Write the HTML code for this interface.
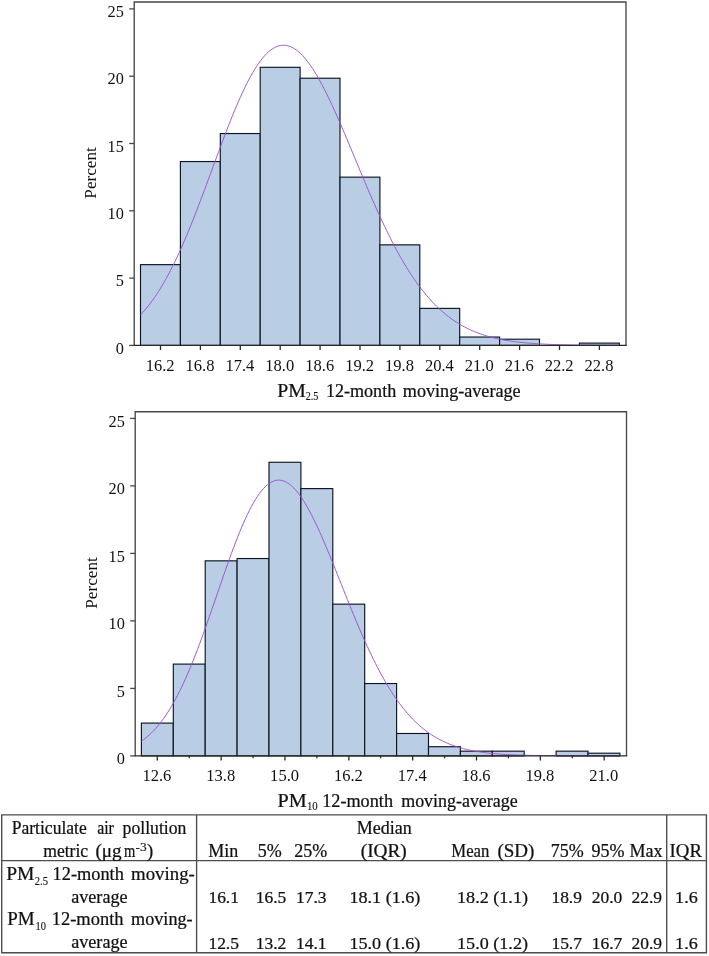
<!DOCTYPE html>
<html><head><meta charset="utf-8"><title>Figure</title>
<style>
html,body{margin:0;padding:0;background:#fff;}
svg{display:block;font-family:"Liberation Serif",serif;fill:#111;}
.b text, text.b{stroke:#111;stroke-width:0.24px;} text.s{stroke-width:0.14px;}
</style></head><body>
<svg width="709" height="956" viewBox="0 0 709 956">
<rect width="709" height="956" fill="#fff"/>
<rect x="140.50" y="264.64" width="39.90" height="80.76" fill="#b9cde5" stroke="#0c1620" stroke-width="1.15"/>
<rect x="180.40" y="161.54" width="39.90" height="183.86" fill="#b9cde5" stroke="#0c1620" stroke-width="1.15"/>
<rect x="220.30" y="133.54" width="39.90" height="211.86" fill="#b9cde5" stroke="#0c1620" stroke-width="1.15"/>
<rect x="260.20" y="67.32" width="39.90" height="278.08" fill="#b9cde5" stroke="#0c1620" stroke-width="1.15"/>
<rect x="300.10" y="78.22" width="39.90" height="267.18" fill="#b9cde5" stroke="#0c1620" stroke-width="1.15"/>
<rect x="340.00" y="177.15" width="39.90" height="168.25" fill="#b9cde5" stroke="#0c1620" stroke-width="1.15"/>
<rect x="379.90" y="244.85" width="39.90" height="100.55" fill="#b9cde5" stroke="#0c1620" stroke-width="1.15"/>
<rect x="419.80" y="308.38" width="39.90" height="37.01" fill="#b9cde5" stroke="#0c1620" stroke-width="1.15"/>
<rect x="459.70" y="337.05" width="39.90" height="8.35" fill="#b9cde5" stroke="#0c1620" stroke-width="1.15"/>
<rect x="499.60" y="339.21" width="39.90" height="6.19" fill="#b9cde5" stroke="#0c1620" stroke-width="1.15"/>
<rect x="579.40" y="343.11" width="39.90" height="2.29" fill="#b9cde5" stroke="#0c1620" stroke-width="1.15"/>
<path d="M140.6,314.76 L142.6,312.62 L144.6,310.36 L146.6,308.00 L148.6,305.52 L150.6,302.92 L152.6,300.20 L154.6,297.37 L156.6,294.41 L158.6,291.33 L160.6,288.13 L162.6,284.80 L164.6,281.35 L166.6,277.78 L168.6,274.08 L170.6,270.27 L172.6,266.33 L174.6,262.27 L176.6,258.09 L178.6,253.80 L180.6,249.40 L182.6,244.89 L184.6,240.28 L186.6,235.57 L188.6,230.76 L190.6,225.87 L192.6,220.89 L194.6,215.83 L196.6,210.70 L198.6,205.50 L200.6,200.25 L202.6,194.95 L204.6,189.60 L206.6,184.22 L208.6,178.82 L210.6,173.39 L212.6,167.96 L214.6,162.54 L216.6,157.12 L218.6,151.72 L220.6,146.36 L222.6,141.03 L224.6,135.76 L226.6,130.54 L228.6,125.40 L230.6,120.34 L232.6,115.37 L234.6,110.50 L236.6,105.75 L238.6,101.11 L240.6,96.60 L242.6,92.23 L244.6,88.02 L246.6,83.95 L248.6,80.06 L250.6,76.33 L252.6,72.79 L254.6,69.44 L256.6,66.28 L258.6,63.33 L260.6,60.58 L262.6,58.04 L264.6,55.73 L266.6,53.63 L268.6,51.76 L270.6,50.12 L272.6,48.72 L274.6,47.54 L276.6,46.61 L278.6,45.91 L280.6,45.44 L282.6,45.22 L284.6,45.23 L286.6,45.48 L288.6,45.96 L290.6,46.67 L292.6,47.61 L294.6,48.78 L296.6,50.16 L298.6,51.77 L300.6,53.58 L302.6,55.61 L304.6,57.83 L306.6,60.25 L308.6,62.86 L310.6,65.66 L312.6,68.63 L314.6,71.76 L316.6,75.06 L318.6,78.51 L320.6,82.11 L322.6,85.85 L324.6,89.71 L326.6,93.70 L328.6,97.79 L330.6,102.00 L332.6,106.30 L334.6,110.68 L336.6,115.15 L338.6,119.68 L340.6,124.28 L342.6,128.93 L344.6,133.63 L346.6,138.36 L348.6,143.13 L350.6,147.92 L352.6,152.72 L354.6,157.53 L356.6,162.34 L358.6,167.15 L360.6,171.94 L362.6,176.71 L364.6,181.46 L366.6,186.17 L368.6,190.85 L370.6,195.49 L372.6,200.08 L374.6,204.62 L376.6,209.10 L378.6,213.52 L380.6,217.88 L382.6,222.17 L384.6,226.39 L386.6,230.53 L388.6,234.60 L390.6,238.59 L392.6,242.50 L394.6,246.32 L396.6,250.06 L398.6,253.71 L400.6,257.28 L402.6,260.75 L404.6,264.14 L406.6,267.44 L408.6,270.64 L410.6,273.76 L412.6,276.78 L414.6,279.72 L416.6,282.56 L418.6,285.32 L420.6,287.99 L422.6,290.57 L424.6,293.06 L426.6,295.47 L428.6,297.79 L430.6,300.03 L432.6,302.19 L434.6,304.27 L436.6,306.27 L438.6,308.19 L440.6,310.04 L442.6,311.81 L444.6,313.52 L446.6,315.15 L448.6,316.71 L450.6,318.21 L452.6,319.64 L454.6,321.01 L456.6,322.32 L458.6,323.57 L460.6,324.76 L462.6,325.90 L464.6,326.98 L466.6,328.01 L468.6,329.00 L470.6,329.93 L472.6,330.82 L474.6,331.67 L476.6,332.47 L478.6,333.23 L480.6,333.95 L482.6,334.64 L484.6,335.29 L486.6,335.90 L488.6,336.48 L490.6,337.03 L492.6,337.55 L494.6,338.04 L496.6,338.50 L498.6,338.94 L500.6,339.35 L502.6,339.74 L504.6,340.11 L506.6,340.45 L508.6,340.78 L510.6,341.08 L512.6,341.37 L514.6,341.64 L516.6,341.89 L518.6,342.13 L520.6,342.35 L522.6,342.56 L524.6,342.76 L526.6,342.94 L528.6,343.11 L530.6,343.27 L532.6,343.42 L534.6,343.56 L536.6,343.69 L538.6,343.82 L540.6,343.93 L542.6,344.04 L544.6,344.14 L546.6,344.23 L548.6,344.32 L550.6,344.40 L552.6,344.47 L554.6,344.54 L556.6,344.60 L558.6,344.66 L560.6,344.72 L562.6,344.77 L564.6,344.82 L566.6,344.87 L568.6,344.91 L570.6,344.95 L572.6,344.98 L574.6,345.01 L576.6,345.04 L578.6,345.07 L580.6,345.10 L582.6,345.12 L584.6,345.15 L586.6,345.17 L588.6,345.18 L590.6,345.20 L592.6,345.22 L594.6,345.23 L596.6,345.25 L598.6,345.26 L600.6,345.27 L602.6,345.28 L604.6,345.29 L606.6,345.30 L608.6,345.31 L610.6,345.32 L612.6,345.32 L614.6,345.33 L616.6,345.34 L618.6,345.34" fill="none" stroke="#9a52d2" stroke-width="0.95" stroke-linejoin="round"/>
<path d="M134.2,345.4 V2.0 H626.0 V345.4" fill="none" stroke="#474747" stroke-width="1.35"/>
<path d="M133.45,345.4 H626.75" fill="none" stroke="#2a2a2a" stroke-width="1.4"/>
<path d="M129.2,345.40 H134.2" stroke="#474747" stroke-width="1.3"/>
<text x="123.8" y="353.60" text-anchor="end" font-size="16.3">0</text>
<path d="M129.2,278.10 H134.2" stroke="#474747" stroke-width="1.3"/>
<text x="123.8" y="286.30" text-anchor="end" font-size="16.3">5</text>
<path d="M129.2,210.80 H134.2" stroke="#474747" stroke-width="1.3"/>
<text x="123.8" y="219.00" text-anchor="end" font-size="16.3">10</text>
<path d="M129.2,143.50 H134.2" stroke="#474747" stroke-width="1.3"/>
<text x="123.8" y="151.70" text-anchor="end" font-size="16.3">15</text>
<path d="M129.2,76.20 H134.2" stroke="#474747" stroke-width="1.3"/>
<text x="123.8" y="84.40" text-anchor="end" font-size="16.3">20</text>
<path d="M129.2,8.90 H134.2" stroke="#474747" stroke-width="1.3"/>
<text x="123.8" y="17.10" text-anchor="end" font-size="16.3">25</text>
<path d="M160.50,345.4 v4.6" stroke="#2a2a2a" stroke-width="1.3"/>
<path d="M200.40,345.4 v4.6" stroke="#2a2a2a" stroke-width="1.3"/>
<path d="M240.30,345.4 v4.6" stroke="#2a2a2a" stroke-width="1.3"/>
<path d="M280.20,345.4 v4.6" stroke="#2a2a2a" stroke-width="1.3"/>
<path d="M320.10,345.4 v4.6" stroke="#2a2a2a" stroke-width="1.3"/>
<path d="M360.00,345.4 v4.6" stroke="#2a2a2a" stroke-width="1.3"/>
<path d="M399.90,345.4 v4.6" stroke="#2a2a2a" stroke-width="1.3"/>
<path d="M439.80,345.4 v4.6" stroke="#2a2a2a" stroke-width="1.3"/>
<path d="M479.70,345.4 v4.6" stroke="#2a2a2a" stroke-width="1.3"/>
<path d="M519.60,345.4 v4.6" stroke="#2a2a2a" stroke-width="1.3"/>
<path d="M559.50,345.4 v4.6" stroke="#2a2a2a" stroke-width="1.3"/>
<path d="M599.40,345.4 v4.6" stroke="#2a2a2a" stroke-width="1.3"/>
<text x="145.65" y="370.80" font-size="16.4" textLength="28.9" lengthAdjust="spacingAndGlyphs">16.2</text>
<text x="185.55" y="370.80" font-size="16.4" textLength="28.9" lengthAdjust="spacingAndGlyphs">16.8</text>
<text x="225.45" y="370.80" font-size="16.4" textLength="28.9" lengthAdjust="spacingAndGlyphs">17.4</text>
<text x="265.35" y="370.80" font-size="16.4" textLength="28.9" lengthAdjust="spacingAndGlyphs">18.0</text>
<text x="305.25" y="370.80" font-size="16.4" textLength="28.9" lengthAdjust="spacingAndGlyphs">18.6</text>
<text x="345.15" y="370.80" font-size="16.4" textLength="28.9" lengthAdjust="spacingAndGlyphs">19.2</text>
<text x="385.05" y="370.80" font-size="16.4" textLength="28.9" lengthAdjust="spacingAndGlyphs">19.8</text>
<text x="424.95" y="370.80" font-size="16.4" textLength="28.9" lengthAdjust="spacingAndGlyphs">20.4</text>
<text x="464.85" y="370.80" font-size="16.4" textLength="28.9" lengthAdjust="spacingAndGlyphs">21.0</text>
<text x="504.75" y="370.80" font-size="16.4" textLength="28.9" lengthAdjust="spacingAndGlyphs">21.6</text>
<text x="544.65" y="370.80" font-size="16.4" textLength="28.9" lengthAdjust="spacingAndGlyphs">22.2</text>
<text x="584.55" y="370.80" font-size="16.4" textLength="28.9" lengthAdjust="spacingAndGlyphs">22.8</text>
<text transform="translate(96.3,172.9) rotate(-90)" text-anchor="middle" font-size="17.2">Percent</text>
<g class="b">
<text x="277.3" y="396.6" font-size="18" textLength="28.5" lengthAdjust="spacingAndGlyphs">PM</text>
<text x="305.8" y="400.4" font-size="12.8" textLength="12.6" lengthAdjust="spacingAndGlyphs" class="s">2.5</text>
<text x="325.9" y="396.6" font-size="18" textLength="70.3" lengthAdjust="spacingAndGlyphs">12-month</text>
<text x="402.8" y="396.6" font-size="18" textLength="117.8" lengthAdjust="spacingAndGlyphs">moving-average</text>
</g>
<rect x="141.40" y="723.10" width="31.90" height="32.80" fill="#b9cde5" stroke="#0c1620" stroke-width="1.15"/>
<rect x="173.30" y="664.10" width="31.90" height="91.80" fill="#b9cde5" stroke="#0c1620" stroke-width="1.15"/>
<rect x="205.20" y="560.83" width="31.90" height="195.07" fill="#b9cde5" stroke="#0c1620" stroke-width="1.15"/>
<rect x="237.10" y="558.53" width="31.90" height="197.37" fill="#b9cde5" stroke="#0c1620" stroke-width="1.15"/>
<rect x="269.00" y="462.27" width="31.90" height="293.62" fill="#b9cde5" stroke="#0c1620" stroke-width="1.15"/>
<rect x="300.90" y="488.60" width="31.90" height="267.30" fill="#b9cde5" stroke="#0c1620" stroke-width="1.15"/>
<rect x="332.80" y="604.16" width="31.90" height="151.74" fill="#b9cde5" stroke="#0c1620" stroke-width="1.15"/>
<rect x="364.70" y="683.54" width="31.90" height="72.36" fill="#b9cde5" stroke="#0c1620" stroke-width="1.15"/>
<rect x="396.60" y="733.49" width="31.90" height="22.41" fill="#b9cde5" stroke="#0c1620" stroke-width="1.15"/>
<rect x="428.50" y="746.72" width="31.90" height="9.18" fill="#b9cde5" stroke="#0c1620" stroke-width="1.15"/>
<rect x="460.40" y="751.17" width="31.90" height="4.73" fill="#b9cde5" stroke="#0c1620" stroke-width="1.15"/>
<rect x="492.30" y="751.17" width="31.90" height="4.73" fill="#b9cde5" stroke="#0c1620" stroke-width="1.15"/>
<rect x="556.10" y="751.17" width="31.90" height="4.73" fill="#b9cde5" stroke="#0c1620" stroke-width="1.15"/>
<rect x="588.00" y="753.20" width="31.90" height="2.70" fill="#b9cde5" stroke="#0c1620" stroke-width="1.15"/>
<path d="M141.4,741.17 L143.4,739.75 L145.4,738.21 L147.4,736.56 L149.4,734.80 L151.4,732.91 L153.4,730.90 L155.4,728.75 L157.4,726.48 L159.4,724.06 L161.4,721.50 L163.4,718.79 L165.4,715.93 L167.4,712.93 L169.4,709.77 L171.4,706.45 L173.4,702.98 L175.4,699.35 L177.4,695.57 L179.4,691.63 L181.4,687.54 L183.4,683.30 L185.4,678.91 L187.4,674.37 L189.4,669.69 L191.4,664.87 L193.4,659.92 L195.4,654.85 L197.4,649.66 L199.4,644.36 L201.4,638.97 L203.4,633.48 L205.4,627.90 L207.4,622.26 L209.4,616.56 L211.4,610.80 L213.4,605.02 L215.4,599.21 L217.4,593.39 L219.4,587.57 L221.4,581.77 L223.4,576.00 L225.4,570.28 L227.4,564.62 L229.4,559.03 L231.4,553.53 L233.4,548.14 L235.4,542.86 L237.4,537.72 L239.4,532.72 L241.4,527.89 L243.4,523.22 L245.4,518.74 L247.4,514.46 L249.4,510.39 L251.4,506.54 L253.4,502.92 L255.4,499.54 L257.4,496.41 L259.4,493.54 L261.4,490.93 L263.4,488.60 L265.4,486.54 L267.4,484.76 L269.4,483.26 L271.4,482.05 L273.4,481.13 L275.4,480.50 L277.4,480.16 L279.4,480.11 L281.4,480.35 L283.4,480.87 L285.4,481.67 L287.4,482.75 L289.4,484.09 L291.4,485.70 L293.4,487.57 L295.4,489.70 L297.4,492.06 L299.4,494.66 L301.4,497.48 L303.4,500.52 L305.4,503.76 L307.4,507.20 L309.4,510.82 L311.4,514.62 L313.4,518.58 L315.4,522.69 L317.4,526.93 L319.4,531.31 L321.4,535.80 L323.4,540.39 L325.4,545.08 L327.4,549.85 L329.4,554.68 L331.4,559.58 L333.4,564.52 L335.4,569.50 L337.4,574.50 L339.4,579.52 L341.4,584.55 L343.4,589.57 L345.4,594.58 L347.4,599.56 L349.4,604.52 L351.4,609.44 L353.4,614.32 L355.4,619.14 L357.4,623.90 L359.4,628.60 L361.4,633.23 L363.4,637.79 L365.4,642.26 L367.4,646.65 L369.4,650.95 L371.4,655.15 L373.4,659.27 L375.4,663.28 L377.4,667.19 L379.4,671.00 L381.4,674.71 L383.4,678.31 L385.4,681.81 L387.4,685.20 L389.4,688.48 L391.4,691.66 L393.4,694.73 L395.4,697.70 L397.4,700.56 L399.4,703.31 L401.4,705.97 L403.4,708.52 L405.4,710.97 L407.4,713.32 L409.4,715.58 L411.4,717.75 L413.4,719.82 L415.4,721.80 L417.4,723.69 L419.4,725.50 L421.4,727.23 L423.4,728.87 L425.4,730.44 L427.4,731.93 L429.4,733.35 L431.4,734.70 L433.4,735.98 L435.4,737.19 L437.4,738.34 L439.4,739.43 L441.4,740.46 L443.4,741.44 L445.4,742.36 L447.4,743.23 L449.4,744.05 L451.4,744.83 L453.4,745.56 L455.4,746.25 L457.4,746.89 L459.4,747.50 L461.4,748.08 L463.4,748.61 L465.4,749.12 L467.4,749.59 L469.4,750.03 L471.4,750.45 L473.4,750.84 L475.4,751.20 L477.4,751.54 L479.4,751.86 L481.4,752.15 L483.4,752.43 L485.4,752.69 L487.4,752.93 L489.4,753.15 L491.4,753.36 L493.4,753.55 L495.4,753.73 L497.4,753.90 L499.4,754.05 L501.4,754.20 L503.4,754.33 L505.4,754.46 L507.4,754.57 L509.4,754.68 L511.4,754.77 L513.4,754.87 L515.4,754.95 L517.4,755.03 L519.4,755.10 L521.4,755.16 L523.4,755.23 L525.4,755.28 L527.4,755.33 L529.4,755.38 L531.4,755.43 L533.4,755.47 L535.4,755.50 L537.4,755.54 L539.4,755.57 L541.4,755.60 L543.4,755.62 L545.4,755.65 L547.4,755.67 L549.4,755.69 L551.4,755.71 L553.4,755.73 L555.4,755.74 L557.4,755.76 L559.4,755.77 L561.4,755.78 L563.4,755.79 L565.4,755.80 L567.4,755.81 L569.4,755.82 L571.4,755.83 L573.4,755.83 L575.4,755.84 L577.4,755.84 L579.4,755.85 L581.4,755.85 L583.4,755.86 L585.4,755.86 L587.4,755.87 L589.4,755.87 L591.4,755.87 L593.4,755.88 L595.4,755.88 L597.4,755.88 L599.4,755.88 L601.4,755.88 L603.4,755.89 L605.4,755.89 L607.4,755.89 L609.4,755.89 L611.4,755.89 L613.4,755.89 L615.4,755.89 L617.4,755.89 L619.4,755.89" fill="none" stroke="#9a52d2" stroke-width="0.95" stroke-linejoin="round"/>
<path d="M135.2,755.9 V411.7 H626.5 V755.9" fill="none" stroke="#474747" stroke-width="1.35"/>
<path d="M134.45,755.9 H627.25" fill="none" stroke="#2a2a2a" stroke-width="1.4"/>
<path d="M130.2,755.90 H135.2" stroke="#474747" stroke-width="1.3"/>
<text x="124.8" y="764.10" text-anchor="end" font-size="16.3">0</text>
<path d="M130.2,688.40 H135.2" stroke="#474747" stroke-width="1.3"/>
<text x="124.8" y="696.60" text-anchor="end" font-size="16.3">5</text>
<path d="M130.2,620.90 H135.2" stroke="#474747" stroke-width="1.3"/>
<text x="124.8" y="629.10" text-anchor="end" font-size="16.3">10</text>
<path d="M130.2,553.40 H135.2" stroke="#474747" stroke-width="1.3"/>
<text x="124.8" y="561.60" text-anchor="end" font-size="16.3">15</text>
<path d="M130.2,485.90 H135.2" stroke="#474747" stroke-width="1.3"/>
<text x="124.8" y="494.10" text-anchor="end" font-size="16.3">20</text>
<path d="M130.2,418.40 H135.2" stroke="#474747" stroke-width="1.3"/>
<text x="124.8" y="426.60" text-anchor="end" font-size="16.3">25</text>
<path d="M157.30,755.9 v4.6" stroke="#2a2a2a" stroke-width="1.3"/>
<path d="M189.22,755.9 v2.4" stroke="#2a2a2a" stroke-width="1.3"/>
<path d="M221.14,755.9 v4.6" stroke="#2a2a2a" stroke-width="1.3"/>
<path d="M253.06,755.9 v2.4" stroke="#2a2a2a" stroke-width="1.3"/>
<path d="M284.98,755.9 v4.6" stroke="#2a2a2a" stroke-width="1.3"/>
<path d="M316.90,755.9 v2.4" stroke="#2a2a2a" stroke-width="1.3"/>
<path d="M348.82,755.9 v4.6" stroke="#2a2a2a" stroke-width="1.3"/>
<path d="M380.74,755.9 v2.4" stroke="#2a2a2a" stroke-width="1.3"/>
<path d="M412.66,755.9 v4.6" stroke="#2a2a2a" stroke-width="1.3"/>
<path d="M444.58,755.9 v2.4" stroke="#2a2a2a" stroke-width="1.3"/>
<path d="M476.50,755.9 v4.6" stroke="#2a2a2a" stroke-width="1.3"/>
<path d="M508.42,755.9 v2.4" stroke="#2a2a2a" stroke-width="1.3"/>
<path d="M540.34,755.9 v4.6" stroke="#2a2a2a" stroke-width="1.3"/>
<path d="M572.26,755.9 v2.4" stroke="#2a2a2a" stroke-width="1.3"/>
<path d="M604.18,755.9 v4.6" stroke="#2a2a2a" stroke-width="1.3"/>
<text x="142.45" y="781.30" font-size="16.4" textLength="28.9" lengthAdjust="spacingAndGlyphs">12.6</text>
<text x="206.29" y="781.30" font-size="16.4" textLength="28.9" lengthAdjust="spacingAndGlyphs">13.8</text>
<text x="270.13" y="781.30" font-size="16.4" textLength="28.9" lengthAdjust="spacingAndGlyphs">15.0</text>
<text x="333.97" y="781.30" font-size="16.4" textLength="28.9" lengthAdjust="spacingAndGlyphs">16.2</text>
<text x="397.81" y="781.30" font-size="16.4" textLength="28.9" lengthAdjust="spacingAndGlyphs">17.4</text>
<text x="461.65" y="781.30" font-size="16.4" textLength="28.9" lengthAdjust="spacingAndGlyphs">18.6</text>
<text x="525.49" y="781.30" font-size="16.4" textLength="28.9" lengthAdjust="spacingAndGlyphs">19.8</text>
<text x="589.33" y="781.30" font-size="16.4" textLength="28.9" lengthAdjust="spacingAndGlyphs">21.0</text>
<text transform="translate(97.3,583.0) rotate(-90)" text-anchor="middle" font-size="17.2">Percent</text>
<g class="b">
<text x="277.5" y="806.5" font-size="18" textLength="29.2" lengthAdjust="spacingAndGlyphs">PM</text>
<text x="306.9" y="810.3" font-size="12.8" textLength="10.8" lengthAdjust="spacingAndGlyphs" class="s">10</text>
<text x="322.2" y="806.5" font-size="18" textLength="70.8" lengthAdjust="spacingAndGlyphs">12-month</text>
<text x="401.2" y="806.5" font-size="18" textLength="116.5" lengthAdjust="spacingAndGlyphs">moving-average</text>
</g>
<g class="b">
<path d="M1.7,814.9 H706.4 V952.8 H1.7 Z M1.7,860.6 H706.4 M196.6,814.9 V952.8 M666.7,814.9 V952.8" fill="none" stroke="#4e4e4e" stroke-width="1.4"/>
<text x="11.7" y="834.3" font-size="18" textLength="75.1" lengthAdjust="spacingAndGlyphs">Particulate</text>
<text x="97.2" y="834.3" font-size="18" textLength="16.7" lengthAdjust="spacingAndGlyphs">air</text>
<text x="122.6" y="834.3" font-size="18" textLength="63.8" lengthAdjust="spacingAndGlyphs">pollution</text>
<text x="43.2" y="857.2" font-size="18" textLength="45.0" lengthAdjust="spacingAndGlyphs">metric</text>
<text x="95.5" y="857.2" font-size="18" textLength="26.2" lengthAdjust="spacingAndGlyphs">(μg</text>
<text x="124.0" y="857.2" font-size="18" textLength="11.3" lengthAdjust="spacingAndGlyphs">m</text>
<text x="135.5" y="851.0" font-size="11.6" textLength="11.2" lengthAdjust="spacingAndGlyphs" class="s">-3</text>
<text x="147.1" y="857.2" font-size="18" textLength="6.2" lengthAdjust="spacingAndGlyphs">)</text>
<text x="6.2" y="880.0" font-size="18" textLength="28.2" lengthAdjust="spacingAndGlyphs">PM</text>
<text x="34.8" y="884.8" font-size="13" textLength="13.2" lengthAdjust="spacingAndGlyphs" class="s">2.5</text>
<text x="52.6" y="880.0" font-size="18" textLength="71.2" lengthAdjust="spacingAndGlyphs">12-month</text>
<text x="131.1" y="880.0" font-size="18" textLength="63.7" lengthAdjust="spacingAndGlyphs">moving-</text>
<text x="71.2" y="902.9" font-size="18" textLength="56.4" lengthAdjust="spacingAndGlyphs">average</text>
<text x="7.2" y="925.2" font-size="18" textLength="27.4" lengthAdjust="spacingAndGlyphs">PM</text>
<text x="35.5" y="930.0" font-size="13" textLength="10.4" lengthAdjust="spacingAndGlyphs" class="s">10</text>
<text x="51.8" y="925.2" font-size="18" textLength="71.7" lengthAdjust="spacingAndGlyphs">12-month</text>
<text x="131.1" y="925.2" font-size="18" textLength="61.5" lengthAdjust="spacingAndGlyphs">moving-</text>
<text x="71.2" y="948.2" font-size="18" textLength="56.4" lengthAdjust="spacingAndGlyphs">average</text>
<text x="223.2" y="856.9" text-anchor="middle" font-size="18" >Min</text>
<text x="269.8" y="856.9" text-anchor="middle" font-size="18" >5%</text>
<text x="310.8" y="856.9" text-anchor="middle" font-size="18" >25%</text>
<text x="384.2" y="834.4" text-anchor="middle" font-size="18" >Median</text>
<text x="360.8" y="856.9" font-size="18" textLength="46.0" lengthAdjust="spacingAndGlyphs">(IQR)</text>
<text x="451.3" y="856.9" font-size="18" textLength="38.0" lengthAdjust="spacingAndGlyphs">Mean</text>
<text x="497.5" y="856.9" font-size="18" textLength="36.9" lengthAdjust="spacingAndGlyphs">(SD)</text>
<text x="567.3" y="856.9" text-anchor="middle" font-size="18" >75%</text>
<text x="607.9" y="856.9" text-anchor="middle" font-size="18" >95%</text>
<text x="646.0" y="856.9" text-anchor="middle" font-size="18" >Max</text>
<text x="669.6" y="856.9" font-size="18" textLength="32.3" lengthAdjust="spacingAndGlyphs">IQR</text>
<text x="208.4" y="902.5" font-size="16.9" textLength="30.6" lengthAdjust="spacingAndGlyphs">16.1</text>
<text x="255.7" y="902.5" font-size="16.9" textLength="30.6" lengthAdjust="spacingAndGlyphs">16.5</text>
<text x="296.0" y="902.5" font-size="16.9" textLength="30.6" lengthAdjust="spacingAndGlyphs">17.3</text>
<text x="349.4" y="902.5" font-size="16.9" textLength="71.0" lengthAdjust="spacingAndGlyphs">18.1 (1.6)</text>
<text x="457.0" y="902.5" font-size="16.9" textLength="71.0" lengthAdjust="spacingAndGlyphs">18.2 (1.1)</text>
<text x="551.4" y="902.5" font-size="16.9" textLength="30.6" lengthAdjust="spacingAndGlyphs">18.9</text>
<text x="591.7" y="902.5" font-size="16.9" textLength="30.6" lengthAdjust="spacingAndGlyphs">20.0</text>
<text x="631.5" y="902.5" font-size="16.9" textLength="30.6" lengthAdjust="spacingAndGlyphs">22.9</text>
<text x="675.1" y="902.5" font-size="16.9" textLength="22.6" lengthAdjust="spacingAndGlyphs">1.6</text>
<text x="208.4" y="948.9" font-size="16.9" textLength="30.6" lengthAdjust="spacingAndGlyphs">12.5</text>
<text x="255.7" y="948.9" font-size="16.9" textLength="30.6" lengthAdjust="spacingAndGlyphs">13.2</text>
<text x="296.0" y="948.9" font-size="16.9" textLength="30.6" lengthAdjust="spacingAndGlyphs">14.1</text>
<text x="349.4" y="948.9" font-size="16.9" textLength="71.0" lengthAdjust="spacingAndGlyphs">15.0 (1.6)</text>
<text x="457.0" y="948.9" font-size="16.9" textLength="71.0" lengthAdjust="spacingAndGlyphs">15.0 (1.2)</text>
<text x="551.4" y="948.9" font-size="16.9" textLength="30.6" lengthAdjust="spacingAndGlyphs">15.7</text>
<text x="591.7" y="948.9" font-size="16.9" textLength="30.6" lengthAdjust="spacingAndGlyphs">16.7</text>
<text x="631.5" y="948.9" font-size="16.9" textLength="30.6" lengthAdjust="spacingAndGlyphs">20.9</text>
<text x="675.1" y="948.9" font-size="16.9" textLength="22.6" lengthAdjust="spacingAndGlyphs">1.6</text>
</g>
</svg>
</body></html>
